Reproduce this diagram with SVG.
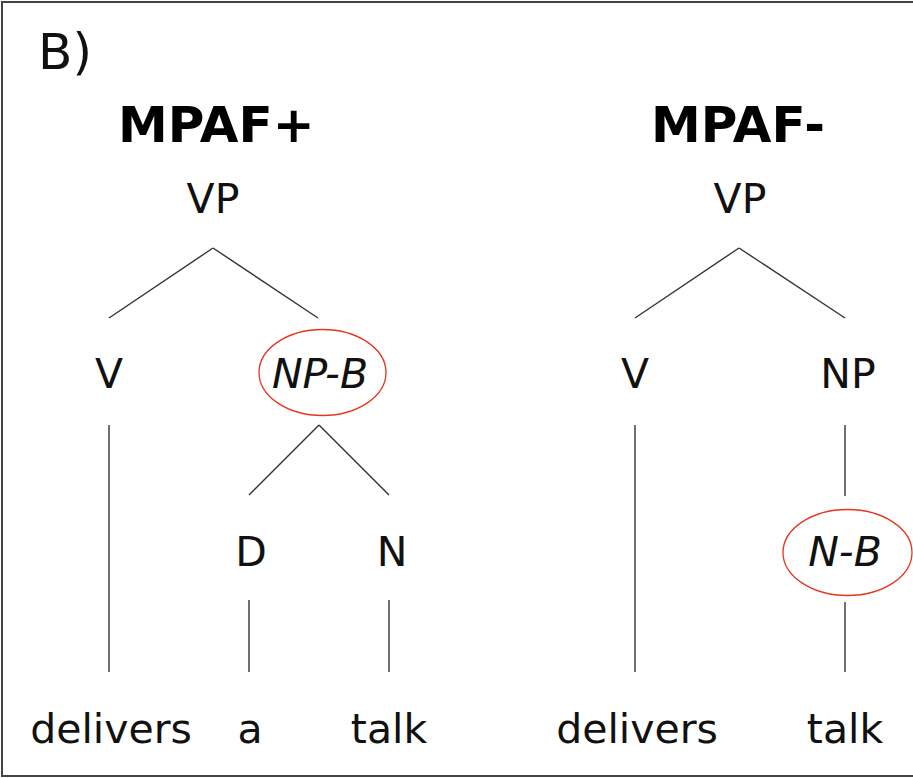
<svg xmlns="http://www.w3.org/2000/svg" width="913" height="778" viewBox="0 0 913 778">
<style>
.lbl{font-family:"DejaVu Sans","Verdana",sans-serif;font-size:41px;fill:#111;text-anchor:middle}
.it{font-style:italic}
.title{font-family:"DejaVu Sans","Verdana",sans-serif;font-size:50px;font-weight:bold;fill:#000}
.edge{stroke:#333;stroke-width:1.4;fill:none}
.mark{fill:none;stroke:#e8341c;stroke-width:1.3}
</style>
<rect x="0" y="0" width="913" height="778" fill="#fff"/>
<rect x="2" y="2" width="960" height="774" fill="none" stroke="#444" stroke-width="2"/>
<text x="38" y="69" style="font-family:'DejaVu Sans',sans-serif;font-size:50px;fill:#111" textLength="54" lengthAdjust="spacingAndGlyphs">B)</text>
<text class="title" x="118" y="141.5">MPAF+</text>
<text class="title" x="651" y="141.5">MPAF-</text>
<g id="connectors">
<line class="edge" x1="213" y1="248" x2="109" y2="318"/>
<line class="edge" x1="213" y1="248" x2="318" y2="318"/>
<line class="edge" x1="319" y1="425" x2="249" y2="495"/>
<line class="edge" x1="319" y1="425" x2="389" y2="495"/>
<line class="edge" x1="109" y1="425" x2="109" y2="672"/>
<line class="edge" x1="249" y1="600" x2="249" y2="672"/>
<line class="edge" x1="389" y1="600" x2="389" y2="672"/>
<line class="edge" x1="739" y1="248" x2="635" y2="318"/>
<line class="edge" x1="739" y1="248" x2="845" y2="318"/>
<line class="edge" x1="635" y1="425" x2="635" y2="672"/>
<line class="edge" x1="845" y1="425" x2="845" y2="496"/>
<line class="edge" x1="845" y1="602" x2="845" y2="672"/>
</g>
<g id="vp-left"><text class="lbl" x="213" y="212.5">VP</text></g>
<g id="v-left"><text class="lbl" x="109" y="388">V</text></g>
<g id="npb-left"><ellipse class="mark" cx="322.5" cy="372.5" rx="63.5" ry="43"/><text class="lbl it" x="320" y="388">NP-B</text></g>
<g id="d-left"><text class="lbl" x="251" y="566">D</text></g>
<g id="n-left"><text class="lbl" x="392" y="566">N</text></g>
<g id="delivers-left"><text class="lbl" x="111" y="743">delivers</text></g>
<g id="a-left"><text class="lbl" x="250" y="743">a</text></g>
<g id="talk-left"><text class="lbl" x="389" y="743">talk</text></g>
<g id="vp-right"><text class="lbl" x="740" y="212.5">VP</text></g>
<g id="v-right"><text class="lbl" x="635" y="388">V</text></g>
<g id="np-right"><text class="lbl" x="848" y="388">NP</text></g>
<g id="nb-right"><ellipse class="mark" cx="847.5" cy="552.5" rx="64.5" ry="43"/><text class="lbl it" x="845" y="566">N-B</text></g>
<g id="delivers-right"><text class="lbl" x="637" y="743">delivers</text></g>
<g id="talk-right"><text class="lbl" x="845" y="743">talk</text></g>
</svg>
